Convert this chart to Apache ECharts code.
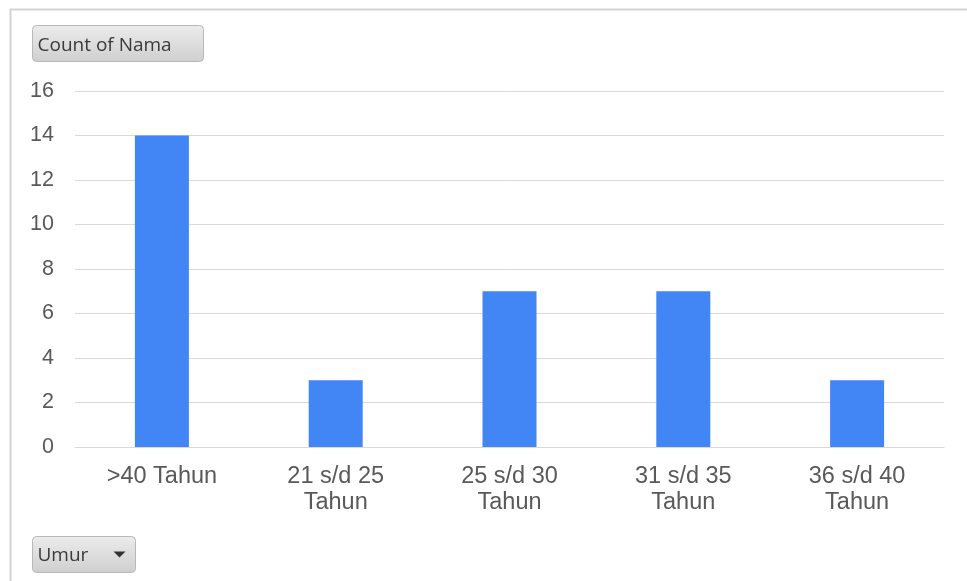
<!DOCTYPE html>
<html><head><meta charset="utf-8">
<script src="https://cdn.jsdelivr.net/npm/echarts@6/dist/echarts.min.js"></script>
<style>html,body{margin:0;padding:0;background:#fff}#c{width:967px;height:581px}</style>
</head><body><div id="c"></div>
<script>
var categories = ['>40 Tahun', '21 s/d 25\nTahun', '25 s/d 30\nTahun', '31 s/d 35\nTahun', '36 s/d 40\nTahun'];
var counts = [14, 3, 7, 7, 3];
var yTicks = {min: 0, max: 16, interval: 2};
var seriesName = 'Count of Nama';
var axisFieldName = 'Umur';

var chart = echarts.init(document.getElementById('c'), null, {renderer: 'canvas'});
var btnFill = new echarts.graphic.LinearGradient(0, 0, 0, 1, [
  {offset: 0, color: '#ececec'}, {offset: 1, color: '#cfcfcf'}
]);
chart.setOption({
  animation: false,
  backgroundColor: '#ffffff',
  grid: {left: 75, right: 23, top: 91, bottom: 134, containLabel: false},
  xAxis: {
    type: 'category',
    data: categories,
    axisLine: {show: true, lineStyle: {color: '#d9d9d9', width: 1}},
    axisTick: {show: false},
    axisLabel: {color: '#595959', fontSize: 23.5, fontFamily: 'Liberation Sans, Arial, sans-serif', lineHeight: 26, margin: 17, interval: 0}
  },
  yAxis: {
    type: 'value',
    min: yTicks.min, max: yTicks.max, interval: yTicks.interval,
    axisLine: {show: false},
    axisTick: {show: false},
    splitLine: {lineStyle: {color: '#d9d9d9', width: 1}},
    axisLabel: {color: '#595959', fontSize: 21.5, fontFamily: 'Liberation Sans, Arial, sans-serif', margin: 21}
  },
  series: [{
    name: seriesName,
    type: 'bar',
    data: counts,
    barWidth: 54,
    itemStyle: {color: '#4285f4'}
  }],
  graphic: [
    {type: 'line', shape: {x1: 10, y1: 9.5, x2: 967, y2: 9.5}, style: {stroke: '#d4d4d4', lineWidth: 2}, silent: true},
    {type: 'line', shape: {x1: 10.5, y1: 9, x2: 10.5, y2: 581}, style: {stroke: '#d4d4d4', lineWidth: 2}, silent: true},
    {type: 'group', left: 32, top: 25, children: [
      {type: 'rect', shape: {x: 0, y: 0, width: 171, height: 36, r: 4}, style: {fill: btnFill, stroke: '#b8b8b8', lineWidth: 1}},
      {type: 'text', x: 5, y: 20, style: {text: seriesName, fill: '#3a3a3a', fontSize: 19, fontFamily: 'Open Sans, DejaVu Sans, sans-serif', verticalAlign: 'middle'}}
    ]},
    {type: 'group', left: 32, top: 536, children: [
      {type: 'rect', shape: {x: 0, y: 0, width: 103, height: 36, r: 4}, style: {fill: btnFill, stroke: '#b8b8b8', lineWidth: 1}},
      {type: 'text', x: 5, y: 19, style: {text: axisFieldName, fill: '#3a3a3a', fontSize: 19, fontFamily: 'Open Sans, DejaVu Sans, sans-serif', verticalAlign: 'middle'}},
      {type: 'polygon', shape: {points: [[81, 15], [93, 15], [87, 21]]}, style: {fill: '#333333'}}
    ]}
  ]
});
</script></body></html>
